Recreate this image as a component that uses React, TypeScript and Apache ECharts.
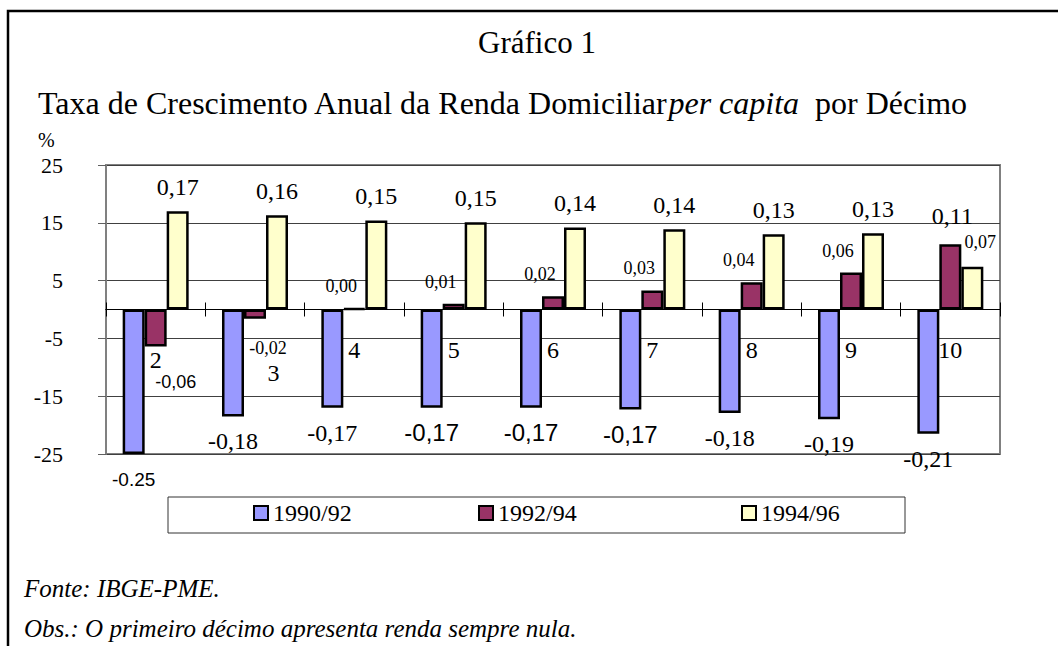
import React, { useEffect, useRef } from "react";
import * as echarts from "echarts";

const categories = ["2", "3", "4", "5", "6", "7", "8", "9", "10"];
const seriesNames = ["1990/92", "1992/94", "1994/96"];
const values9092 = [-25, -18.5, -17, -17, -17, -17.3, -17.9, -19, -21.5];
const values9294 = [-6.4, -1.6, 0.2, 1.0, 2.3, 3.3, 4.7, 6.4, 11.3];
const values9496 = [17.0, 16.3, 15.4, 15.1, 14.2, 13.9, 13.0, 13.2, 7.4];
const labels9092 = ["-0.25", "-0,18", "-0,17", "-0,17", "-0,17", "-0,17", "-0,18", "-0,19", "-0,21"];
const labels9294 = ["-0,06", "-0,02", "0,00", "0,01", "0,02", "0,03", "0,04", "0,06", "0,11"];
const labels9496 = ["0,17", "0,16", "0,15", "0,15", "0,14", "0,14", "0,13", "0,13", "0,07"];
const yTicks = { min: -25, max: 25, interval: 10 };

const SERIF = "Liberation Serif";
const SANS = "Liberation Sans";
const COLORS = ["#9999FF", "#993366", "#FFFFCC"];

const GRID_TOP = 165;
const GRID_BOTTOM_Y = 454;
// zero line sits halfway between min and max of the symmetric value axis
const ZERO_OFFSET = -(GRID_BOTTOM_Y - GRID_TOP) / 2;

function labelFor9092(i: number) {
  const sans = i === 0 || i === 3 || i === 4 || i === 5;
  return {
    show: true,
    position: "bottom",
    distance: i === 0 ? 16 : 13,
    fontFamily: sans ? SANS : SERIF,
    fontSize: i === 0 ? 19 : 24,
    color: "#000",
  };
}
function labelFor9294(i: number, v: number) {
  if (v < 0) {
    return {
      show: true,
      position: "bottom",
      distance: i === 0 ? 27 : 20,
      offset: [i === 0 ? 20 : 13, 0],
      fontFamily: i === 0 ? SANS : SERIF,
      fontSize: 18,
      color: "#000",
    };
  }
  if (i === 8) {
    return { show: true, position: "top", distance: 16, offset: [2, 0], fontFamily: SERIF, fontSize: 24, color: "#000" };
  }
  return { show: true, position: "top", distance: 13, offset: [-13, 0], fontFamily: SERIF, fontSize: 18, color: "#000" };
}
function labelFor9496(i: number) {
  if (i === 8) {
    return { show: true, position: "top", distance: 16, offset: [8, 0], fontFamily: SERIF, fontSize: 18, color: "#000" };
  }
  return { show: true, position: "top", distance: 12, fontFamily: SERIF, fontSize: 24, color: "#000" };
}

export default function App() {
  const ref = useRef<HTMLDivElement>(null);
  useEffect(() => {
    if (!ref.current) return;
    const chart = echarts.init(ref.current, null, { renderer: "svg" });
    const mk = (vals: number[], labs: string[], lf: (i: number, v: number) => any) =>
      vals.map((v, i) => ({ value: v, label: { ...lf(i, v), formatter: labs[i] } }));
    const barBase = {
      type: "bar",
      barWidth: 22,
      barGap: "0%",
      xAxisIndex: 0,
      yAxisIndex: 0,
    };
    const legendBase = {
      top: 501,
      itemWidth: 14,
      itemHeight: 14,
      itemGap: 0,
      padding: 0,
      icon: "rect",
      selectedMode: false,
      textStyle: { fontFamily: SERIF, fontSize: 24, color: "#000" },
    };
    chart.setOption({
      animation: false,
      backgroundColor: "#fff",
      grid: {
        left: 106,
        right: 58,
        top: GRID_TOP,
        bottom: 646 - GRID_BOTTOM_Y,
        show: true,
        borderColor: "#808080",
        borderWidth: 2,
        containLabel: false,
      },
      legend: [
        { ...legendBase, left: 253, data: [seriesNames[0]] },
        { ...legendBase, left: 478, data: [seriesNames[1]] },
        { ...legendBase, left: 741, data: [seriesNames[2]] },
      ],
      xAxis: [
        {
          type: "category",
          data: categories,
          position: "bottom",
          offset: ZERO_OFFSET,
          axisLine: { onZero: false, lineStyle: { color: "#000", width: 1 } },
          axisTick: { show: true, length: 7, lineStyle: { color: "#000", width: 1 } },
          splitLine: { show: false },
          axisLabel: {
            margin: 28,
            fontFamily: SERIF,
            fontSize: 24,
            color: "#000",
            formatter: (value: string, idx: number) =>
              idx === 0 ? `{a|${value}}` : idx === 1 ? `{b|${value}}` : `{n|${value}}`,
            rich: {
              n: { fontFamily: SERIF, fontSize: 24, color: "#000" },
              a: { fontFamily: SERIF, fontSize: 24, color: "#000", padding: [10, 0, 0, 0] },
              b: { fontFamily: SERIF, fontSize: 24, color: "#000", padding: [23, 0, 0, 37] },
            },
          },
        },
        {
          type: "category",
          data: categories,
          position: "top",
          offset: ZERO_OFFSET,
          axisLine: { onZero: false, lineStyle: { color: "#000", width: 1 } },
          axisTick: { show: true, length: 7, lineStyle: { color: "#000", width: 1 } },
          axisLabel: { show: false },
          splitLine: { show: false },
        },
      ],
      yAxis: {
        type: "value",
        min: yTicks.min,
        max: yTicks.max,
        interval: yTicks.interval,
        axisLine: { show: true, lineStyle: { color: "#808080", width: 2 } },
        axisTick: { show: true, length: 8, lineStyle: { color: "#606060", width: 1 } },
        axisLabel: { margin: 43, fontFamily: SERIF, fontSize: 22, color: "#000" },
        splitLine: { show: true, lineStyle: { color: "#404040", width: 1 } },
      },
      series: [
        {
          ...barBase,
          name: seriesNames[0],
          itemStyle: { color: COLORS[0], borderColor: "#000", borderWidth: 2.5 },
          data: mk(values9092, labels9092, (i) => labelFor9092(i)),
        },
        {
          ...barBase,
          name: seriesNames[1],
          itemStyle: { color: COLORS[1], borderColor: "#000", borderWidth: 2.5 },
          data: mk(values9294, labels9294, labelFor9294),
        },
        {
          ...barBase,
          name: seriesNames[2],
          itemStyle: { color: COLORS[2], borderColor: "#000", borderWidth: 2.5 },
          data: mk(values9496, labels9496, (i) => labelFor9496(i)),
        },
      ],
      graphic: [
        {
          type: "rect",
          z: 100,
          shape: { x: 8, y: 11, width: 1070, height: 660 },
          style: { fill: "none", stroke: "#000", lineWidth: 2.5 },
        },
        {
          type: "rect",
          z: 0,
          shape: { x: 168, y: 497, width: 737, height: 36 },
          style: { fill: "#fff", stroke: "#333", lineWidth: 1 },
        },
        {
          type: "text",
          x: 537,
          y: 42,
          style: {
            text: "Gráfico 1",
            fontFamily: SERIF,
            fontSize: 31,
            fill: "#000",
            align: "center",
            verticalAlign: "middle",
          },
        },
        {
          type: "text",
          x: 38,
          y: 103,
          style: {
            text: "Taxa de Crescimento Anual da Renda Domiciliar{i|per capita}  por Décimo",
            fontFamily: SERIF,
            fontSize: 32,
            fill: "#000",
            align: "left",
            verticalAlign: "middle",
            rich: {
              i: { fontFamily: SERIF, fontSize: 32, fontStyle: "italic", fill: "#000" },
            },
          },
        },
        {
          type: "text",
          x: 38,
          y: 140,
          style: { text: "%", fontFamily: SERIF, fontSize: 20, fill: "#000", verticalAlign: "middle" },
        },
        {
          type: "text",
          x: 24,
          y: 588,
          style: {
            text: "Fonte: IBGE-PME.",
            fontFamily: SERIF,
            fontSize: 25,
            fontStyle: "italic",
            fill: "#000",
            verticalAlign: "middle",
          },
        },
        {
          type: "text",
          x: 24,
          y: 628,
          style: {
            text: "Obs.: O primeiro décimo apresenta renda sempre nula.",
            fontFamily: SERIF,
            fontSize: 25,
            fontStyle: "italic",
            fill: "#000",
            verticalAlign: "middle",
          },
        },
      ],
    });
    return () => chart.dispose();
  }, []);
  return (
    <div
      ref={ref}
      style={{ position: "fixed", left: 0, top: 0, width: 1058, height: 646, background: "#fff" }}
    />
  );
}
